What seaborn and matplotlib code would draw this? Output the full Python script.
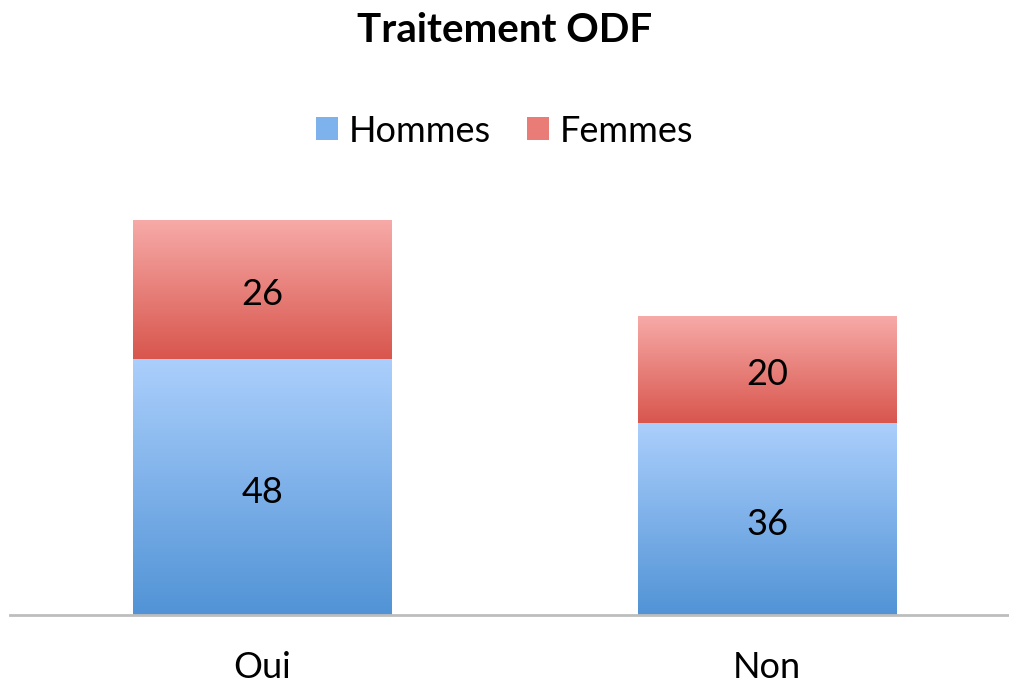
import numpy as np
import pandas as pd
import matplotlib
matplotlib.use("Agg")
import matplotlib.pyplot as plt
import matplotlib.transforms as mtransforms
import seaborn as sns
from matplotlib.colors import LinearSegmentedColormap
from matplotlib.patches import Patch

categories = ["Oui", "Non"]
hommes = [48, 36]
femmes = [26, 20]
series_names = ["Hommes", "Femmes"]
title = "Traitement ODF"

sns.set_theme(style="white")
plt.rcParams["font.family"] = ["Lato", "DejaVu Sans"]
plt.rcParams["text.color"] = "black"

df = pd.DataFrame({"cat": categories, "Hommes": hommes, "Femmes": femmes})
df["Total"] = df["Hommes"] + df["Femmes"]

fig = plt.figure(figsize=(10.09, 6.88), dpi=100)
ax = fig.add_axes([10 / 1009, (688 - 615) / 688, 999 / 1009, 85 * 5.333 / 688])

blue_top, blue_bot = "#abcffc", "#5193d6"
red_top, red_bot = "#f7aaa8", "#d8564d"

sns.barplot(data=df, x="cat", y="Total", color=red_bot, width=0.511, ax=ax,
            saturation=1, order=categories)
n_red = len(ax.patches)
sns.barplot(data=df, x="cat", y="Hommes", color=blue_bot, width=0.511, ax=ax,
            saturation=1, order=categories)

red_patches = ax.patches[:n_red]
blue_patches = ax.patches[n_red:]

grad = np.linspace(1, 0, 256).reshape(-1, 1)
cmap_b = LinearSegmentedColormap.from_list("b", [blue_bot, blue_top])
cmap_r = LinearSegmentedColormap.from_list("r", [red_bot, red_top])

for p, h in zip(red_patches, hommes):
    x0 = p.get_x(); x1 = x0 + p.get_width()
    y1 = p.get_height()
    im = ax.imshow(grad, extent=[x0, x1, h, y1], aspect="auto", cmap=cmap_r,
                   vmin=0, vmax=1, zorder=2, origin="upper")
    im.set_clip_path(p)
for p in blue_patches:
    x0 = p.get_x(); x1 = x0 + p.get_width()
    y1 = p.get_height()
    im = ax.imshow(grad, extent=[x0, x1, 0, y1], aspect="auto", cmap=cmap_b,
                   vmin=0, vmax=1, zorder=2, origin="upper")
    im.set_clip_path(p)

lbl_tr = mtransforms.offset_copy(ax.transData, fig=fig, x=0, y=-5, units="dots")
for i, (h, f) in enumerate(zip(hommes, femmes)):
    ax.text(i, h / 2, str(h), ha="center", va="center", fontsize=26, color="black",
            zorder=3, transform=lbl_tr)
    ax.text(i, h + f / 2, str(f), ha="center", va="center", fontsize=26, color="black",
            zorder=3, transform=lbl_tr)

ax.set_xlim(-0.499, 1.479)
ax.set_ylim(0, 85)
ax.set_xlabel("")
ax.set_ylabel("")
ax.set_yticks([])
for s in ["top", "left", "right"]:
    ax.spines[s].set_visible(False)
ax.spines["bottom"].set_color("#bdbdbd")
ax.spines["bottom"].set_linewidth(2)
ax.tick_params(axis="x", length=0, pad=26, labelsize=26, labelcolor="black")

fig.text(0.5, 1 - 30 / 688, title, ha="center", va="center", fontsize=29,
         fontweight="bold", color="black")

handles = [Patch(facecolor="#7eb2ec", edgecolor="none"),
           Patch(facecolor="#e97c76", edgecolor="none")]
fig.legend(handles, series_names, loc="center", bbox_to_anchor=(0.5, 1 - 131 / 688),
           ncol=2, frameon=False, fontsize=26, handlelength=0.6, handleheight=0.6,
           handletextpad=0.3, columnspacing=1.0, labelcolor="black")

fig.savefig("out.png", dpi=100)
